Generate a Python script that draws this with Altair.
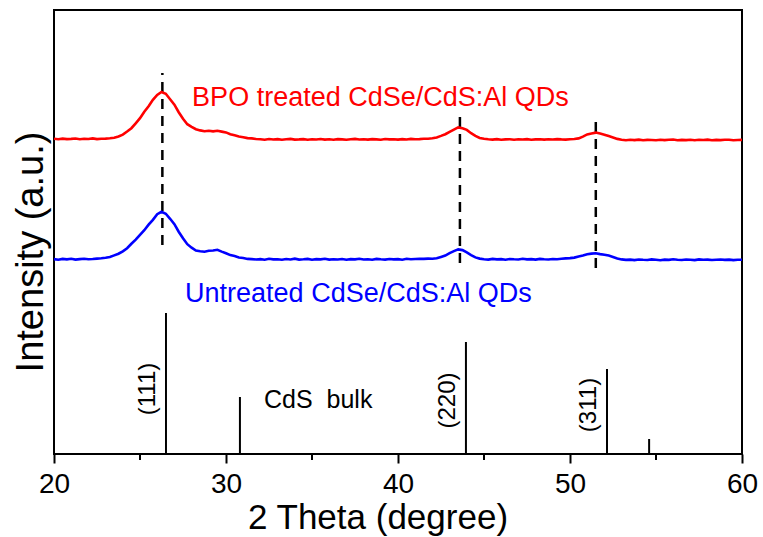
import altair as alt
import pandas as pd

FONT = "Liberation Sans"

# sampling positions of the scans (2 theta, degree)
two_theta = [20 + 0.25 * i for i in range(161)]

# BPO treated CdSe/CdS:Al QDs (arbitrary offset intensity)
bpo = [
    315.2, 314.8, 315.4, 314.9, 315.1, 315.5, 314.7, 315.3, 315.0, 315.6, 314.9, 315.3, 315.4,
    315.8, 316.3, 317.6, 319.4, 322.5, 325.8, 330.7, 335.8, 342.3, 347.8, 354.2, 359.1, 362.0,
    360.2, 354.8, 349.3, 341.8, 335.2, 329.8, 327.2, 324.8, 323.6, 322.8, 323.3, 322.6, 323.2,
    322.4, 321.6, 319.8, 318.7, 317.4, 316.8, 315.9, 315.6, 315.0,
    314.8, 314.3, 315.0, 314.5, 314.9, 314.2, 314.7, 315.1, 314.4, 314.6,
    314.9, 314.3, 314.8, 314.5, 315.0, 314.4, 314.7, 314.2, 314.9, 314.6,
    314.3, 314.8, 315.1, 314.5, 314.7, 314.4, 314.9, 314.6, 314.3, 315.0,
    314.6, 314.8, 314.4, 314.9, 314.5, 315.1, 314.7, 314.9, 315.2, 315.3,
    315.7, 316.6, 318.1, 319.8, 322.2, 324.4, 326.6, 325.8, 324.1, 320.8, 318.2, 316.1, 315.2,
    314.7, 314.4, 314.9, 314.3, 314.6, 314.8, 314.2, 314.7, 314.5, 314.9,
    314.3, 314.6, 314.8, 314.4, 314.7, 314.5, 314.9, 314.6, 314.4, 314.8, 315.0,
    315.6, 317.4, 319.6, 320.6, 321.4, 320.4, 319.3, 317.9, 316.6, 315.1,
    314.3, 313.8, 314.2, 313.9, 314.4, 313.7, 314.1, 314.0, 313.8, 314.3,
    313.9, 314.2, 314.5, 313.8, 314.1, 313.9, 314.3, 313.7, 314.2, 314.0,
    314.4, 313.8, 314.1, 313.9, 314.2, 314.3, 313.8, 314.0, 314.1,
]

# Untreated CdSe/CdS:Al QDs
untreated = [
    194.9, 194.3, 195.1, 194.6, 195.2, 194.4, 194.9, 195.3, 194.7, 195.0, 195.4, 195.8, 196.3,
    197.0, 198.6, 200.3, 202.7, 205.8, 210.2, 214.3, 219.2, 223.8, 229.3, 234.2, 239.8, 242.2,
    240.3, 235.2, 229.8, 222.3, 215.7, 209.8, 206.3, 203.4, 202.7, 202.2, 203.2, 203.5, 204.2,
    202.4, 200.8, 198.9, 197.9, 196.5, 196.0, 195.1, 194.9, 194.5,
    194.9, 194.3, 195.2, 194.6, 194.8, 194.2, 195.0, 194.5, 195.3, 194.4,
    194.7, 195.1, 194.3, 194.9, 194.6, 195.2, 194.4, 194.8, 194.5, 195.0,
    194.3, 194.9, 194.6, 195.3, 194.5, 194.8, 194.2, 195.1, 194.7, 194.4,
    195.0, 194.6, 194.9, 194.3, 195.2, 194.7, 195.0, 195.2, 195.1, 195.4, 195.3,
    195.8, 197.1, 198.4, 200.8, 202.9, 204.6, 203.9, 201.6, 198.9, 196.6, 195.4,
    194.8, 194.4, 195.1, 194.6, 194.9, 194.3, 195.0, 194.7, 194.5, 195.2,
    194.6, 194.9, 194.4, 195.1, 194.7, 194.5, 195.0, 194.8, 195.3, 195.6, 195.9,
    196.4, 197.6, 198.6, 199.8, 200.4, 200.8, 199.9, 199.3, 198.4, 197.1, 195.6,
    194.6, 194.1, 194.4, 193.9, 194.5, 194.2, 194.0, 194.6, 194.3, 193.8,
    194.4, 194.1, 194.7, 194.2, 194.0, 194.5, 194.3, 193.9, 194.6, 194.2,
    194.4, 194.0, 194.3, 194.5, 194.1, 194.4, 193.9, 194.3, 194.2,
]
assert len(bpo) == len(two_theta) == len(untreated)

# dashed guide lines through the QD peaks
guide_x = [26.3, 43.6, 51.5]
guide_top = [381, 339, 334]
guide_bottom = [209, 191, 186]

# CdS bulk reference pattern
ref_x = [26.51, 30.81, 43.95, 52.15, 54.6]
ref_h = [141, 57, 112, 85, 15]

# hkl labels
hkl_text = ["(111)", "(220)", "(311)"]
hkl_x = [25.47, 42.88, 51.10]
hkl_y = [65, 53.5, 49]

major_ticks = [20, 30, 40, 50, 60]
minor_ticks = [25, 35, 45, 55]

series_names = ["BPO treated CdSe/CdS:Al QDs", "Untreated CdSe/CdS:Al QDs"]
series_colors = ["#ff0000", "#0000ff"]

df_lines = pd.concat([
    pd.DataFrame({"x": two_theta, "y": bpo, "s": series_names[0]}),
    pd.DataFrame({"x": two_theta, "y": untreated, "s": series_names[1]}),
])
df_guides = pd.DataFrame({"x": guide_x, "y": guide_bottom, "y2": guide_top})
df_ref = pd.DataFrame({"x": ref_x, "y": [0] * len(ref_x), "y2": ref_h})
df_hkl = pd.DataFrame({"x": hkl_x, "y": hkl_y, "t": hkl_text})
df_minor = pd.DataFrame({"x": minor_ticks})
df_series_lbl = pd.DataFrame({
    "x": [28.03, 27.62], "y": [348, 152.3], "t": series_names, "s": series_names,
})
df_bulk = pd.DataFrame({"x": [32.21], "y": [46], "t": ["CdS\u00a0\u00a0bulk"]})

xscale = alt.Scale(domain=[20, 60], nice=False, zero=False)
yscale = alt.Scale(domain=[0, 444], nice=False, zero=False)
color = alt.Color("s:N", scale=alt.Scale(domain=series_names, range=series_colors), legend=None)

xaxis = alt.Axis(
    values=major_ticks, title="2 Theta (degree)", grid=False, domain=False,
    tickSize=9, tickWidth=2, tickColor="black",
    labelFontSize=28, labelFont=FONT, labelColor="black", labelPadding=7,
    labelFlush=False, labelOverlap=False,
    titleFontSize=35, titleFont=FONT, titleFontWeight="normal", titleColor="black",
    titleX=323.5, titleY=74, titleBaseline="alphabetic", titleAlign="center",
)
yaxis = alt.Axis(
    title="Intensity (a.u.)", grid=False, domain=False, ticks=False, labels=False,
    titleFontSize=38, titleFont=FONT, titleFontWeight="normal", titleColor="black",
    titleAngle=270, titleX=-12, titleY=241.5, titleBaseline="alphabetic", titleAlign="center",
)

base_x = alt.X("x:Q", scale=xscale, axis=xaxis)
base_y = alt.Y("y:Q", scale=yscale, axis=yaxis)

lines = alt.Chart(df_lines).mark_line(strokeWidth=2.6).encode(
    x=base_x, y=base_y, color=color, detail="s:N"
)
guides = alt.Chart(df_guides).mark_rule(color="black", strokeWidth=2.5, strokeDash=[10, 7]).encode(
    x=alt.X("x:Q", scale=xscale), y=alt.Y("y:Q", scale=yscale), y2="y2:Q"
)
refs = alt.Chart(df_ref).mark_rule(color="black", strokeWidth=2).encode(
    x=alt.X("x:Q", scale=xscale), y=alt.Y("y:Q", scale=yscale), y2="y2:Q"
)
minor = alt.Chart(df_minor).mark_rule(color="black", strokeWidth=2).encode(
    x=alt.X("x:Q", scale=xscale), y=alt.value(444), y2=alt.value(450)
)
hkl = alt.Chart(df_hkl).mark_text(
    angle=270, align="center", baseline="middle", fontSize=24, font=FONT, color="black"
).encode(x=alt.X("x:Q", scale=xscale), y=alt.Y("y:Q", scale=yscale), text="t:N")
series_lbl = alt.Chart(df_series_lbl).mark_text(
    align="left", baseline="alphabetic", fontSize=27, font=FONT
).encode(x=alt.X("x:Q", scale=xscale), y=alt.Y("y:Q", scale=yscale), text="t:N", color=color)
bulk = alt.Chart(df_bulk).mark_text(
    align="left", baseline="alphabetic", fontSize=25, font=FONT, color="black"
).encode(x=alt.X("x:Q", scale=xscale), y=alt.Y("y:Q", scale=yscale), text="t:N")

chart = alt.layer(refs, guides, lines, minor, hkl, series_lbl, bulk).properties(
    width=688, height=444,
    autosize=alt.AutoSizeParams(type="none"),
    padding={"left": 54, "top": 10, "right": 21, "bottom": 83},
    background="white",
).configure_view(stroke="black", strokeWidth=2)

chart.save("out.html", embed_options={"renderer": "svg", "actions": False})
